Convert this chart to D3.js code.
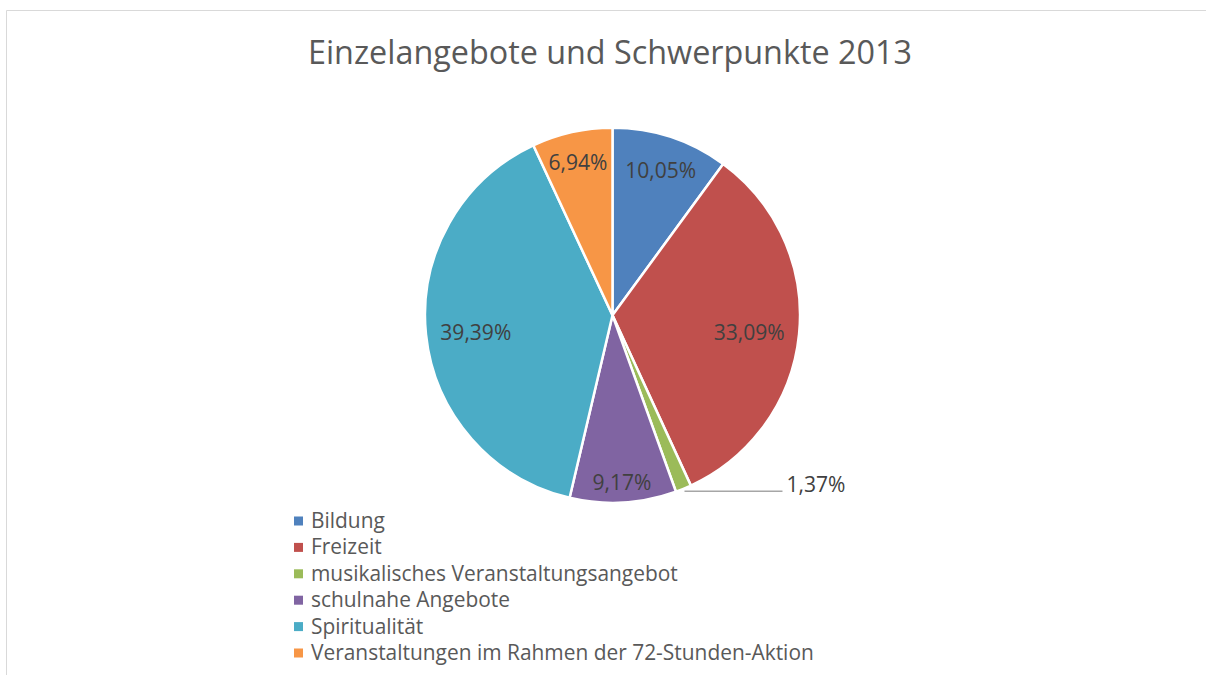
<!DOCTYPE html>
<html>
<head>
<meta charset="utf-8">
<script src="https://cdn.jsdelivr.net/npm/d3@7"></script>
<style>
  html, body { margin: 0; padding: 0; background: #fff; }
  svg { display: block; font-family: "Open Sans", sans-serif; }
</style>
</head>
<body>
<svg id="chart" width="1206" height="675"></svg>
<script>
const title = "Einzelangebote und Schwerpunkte 2013";
const categories = [
  "Bildung",
  "Freizeit",
  "musikalisches Veranstaltungsangebot",
  "schulnahe Angebote",
  "Spiritualität",
  "Veranstaltungen im Rahmen der 72-Stunden-Aktion"
];
const values = [10.05, 33.09, 1.37, 9.17, 39.39, 6.94];
const labels = ["10,05%", "33,09%", "1,37%", "9,17%", "39,39%", "6,94%"];
const colors = ["#4F81BD", "#C0504D", "#9BBB59", "#8064A2", "#4BACC6", "#F79646"];
const outsideLabels = ["1,37%"];

const svg = d3.select("#chart");
const W = 1206, H = 675;

// frame (chart area border, clipped by the screenshot)
svg.append("path")
  .attr("d", `M6.5,${H} L6.5,10.5 L${W},10.5`)
  .attr("fill", "none")
  .attr("stroke", "#d9d9d9")
  .attr("stroke-width", 1);

function fitWidth(sel, target) {
  let fs = parseFloat(sel.attr("font-size"));
  for (let i = 0; i < 4; i++) {
    const w = sel.node().getComputedTextLength();
    fs = fs * target / w;
    sel.attr("font-size", fs);
  }
  return fs;
}

// title
const t = svg.append("text")
  .attr("x", 308).attr("y", 64)
  .attr("fill", "#595959")
  .attr("font-size", 30)
  .text(title);
fitWidth(t, 604);

// pie
const cx = 612.5, cy = 315.3, R = 187.5;
const pie = d3.pie().sort(null).value(d => d)(values);
const arc = d3.arc().innerRadius(0).outerRadius(R);
const g = svg.append("g").attr("transform", `translate(${cx},${cy})`);

g.selectAll("path.slice")
  .data(pie)
  .join("path")
  .attr("class", "slice")
  .attr("d", arc)
  .attr("fill", (d, i) => colors[i])
  .attr("stroke", "#fff")
  .attr("stroke-width", 2.5)
  .attr("stroke-linejoin", "round");

// measure label font size
const probe = g.append("text").attr("font-size", 18).text(labels[0]);
const labelFs = fitWidth(probe, 71);
probe.remove();

pie.forEach((d, i) => {
  const a = (d.startAngle + d.endAngle) / 2;
  const s = Math.sin(a), c = -Math.cos(a);
  if (outsideLabels.includes(labels[i])) {
    const ex = R * s, ey = -R * Math.cos(a);
    const ly = ey + 2.5;
    g.append("line")
      .attr("x1", ex + 1).attr("y1", ly)
      .attr("x2", ex + 99).attr("y2", ly)
      .attr("stroke", "#a6a6a6").attr("stroke-width", 1.5);
    g.append("text")
      .attr("x", ex + 103).attr("y", ly + 1)
      .attr("font-size", labelFs)
      .attr("fill", "#404040")
      .text(labels[i]);
    return;
  }
  const txt = g.append("text")
    .attr("font-size", labelFs)
    .attr("fill", "#404040")
    .attr("text-anchor", "middle")
    .text(labels[i]);
  const bb = txt.node().getBBox();
  const hw = bb.width / 2, hh = labelFs * 0.36;
  const dist = R - 14 - (hw * Math.abs(s) + hh * Math.abs(c));
  const x = dist * s, y = dist * c + 3;
  txt.attr("x", x).attr("y", y + labelFs * 0.36);
});

// legend
const legX = 294, legY0 = 521, legStep = 26.4;
const leg = svg.append("g");
const items = leg.selectAll("g.item")
  .data(categories)
  .join("g")
  .attr("class", "item")
  .attr("transform", (d, i) => `translate(${legX},${legY0 + i * legStep})`);
items.append("rect")
  .attr("x", 0).attr("y", -4.5)
  .attr("width", 9).attr("height", 9)
  .attr("fill", (d, i) => colors[i]);
const legTexts = items.append("text")
  .attr("x", 17).attr("y", 7)
  .attr("fill", "#595959")
  .attr("font-size", 18)
  .text(d => d);
const longest = legTexts.filter((d, i) => i === categories.length - 1);
const legFs = fitWidth(longest, 503);
legTexts.attr("font-size", legFs);
</script>
</body>
</html>
